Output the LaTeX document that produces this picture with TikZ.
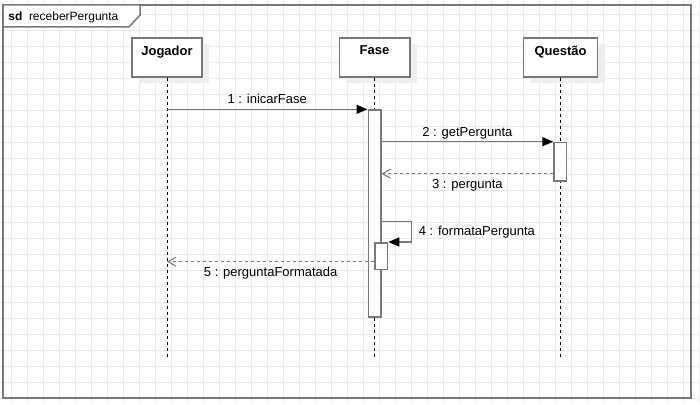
\documentclass[tikz,border=0pt]{standalone}
\usepackage{fontspec}
\setmainfont{Liberation Sans}
\usetikzlibrary{arrows.meta, positioning, calc, shadows}
\definecolor{linegray}{RGB}{120,120,120}
\definecolor{gridgray}{RGB}{234,234,234}
\definecolor{shadowgray}{RGB}{238,238,238}

\begin{document}
\begin{tikzpicture}[
    x=1pt, y=-1pt,
    head/.style={rectangle, draw=linegray, line width=1.7pt, fill=white, minimum width=70.3pt, minimum height=38.3pt, anchor=north,
        general shadow={fill=shadowgray, shadow xshift=7pt, shadow yshift=-6pt}},
    headname/.style={anchor=north, yshift=-8pt, inner sep=0pt, font=\bfseries\fontsize{13}{15}\selectfont},
    lifeline/.style={black, line width=1pt, dash pattern=on 3pt off 3pt},
    act/.style={rectangle, draw=linegray, line width=1.5pt, fill=white, minimum width=12.5pt, anchor=north, inner sep=0pt},
    call/.style={draw=linegray, line width=1.3pt, -{Triangle[length=11pt, width=9pt, color=black]}},
    reply/.style={draw=linegray, line width=1.3pt, dash pattern=on 3pt off 3pt, -{Straight Barb[length=8pt, width=9pt, line width=1pt, color=linegray]}},
    msg/.style={inner sep=2.5pt, text height=9.5pt, text depth=2.5pt, font=\fontsize{13}{15}\selectfont}
]

    % background and grid
    \useasboundingbox (0,0) rectangle (700,404);
    \fill[white] (0,0) rectangle (700,404);
    \foreach \k in {0,...,43}
        \draw[gridgray, line width=0.8pt] ({11.3+16*\k},0) -- ++(0,404);
    \foreach \k in {0,...,24}
        \draw[gridgray, line width=0.8pt] (0,{14.7+16*\k}) -- ++(700,0);

    % frame
    \draw[linegray, line width=1.5pt] (3,5) rectangle (691,398);
    \draw[linegray, line width=1.5pt, fill=white] (3,5) -- (140,5) -- (140,15) -- (129,27) -- (3,27) -- cycle;
    \node[anchor=west, inner sep=0pt, font=\fontsize{12}{14}\selectfont] (frametitle) at (8.3,17.5) {\textbf{sd}\hspace{6.5pt}receberPergunta};

    % lifeline heads
    \node[head, label={[headname]north:Jogador}] (jog) at (167,37.5) {};
    \node[head, label={[headname]north:Fase}] (fase) at (374.5,37.5) {};
    \node[head, minimum width=74pt, label={[headname]north:Questão}] (quest) at (560.5,37.5) {};

    % lifelines
    \coordinate (bottom) at (0,357);
    \draw[lifeline] (jog.south) -- (jog.south |- bottom);
    \draw[lifeline] (fase.south) -- (fase.south |- bottom);
    \draw[lifeline] (quest.south) -- (quest.south |- bottom);

    % activations
    \node[act, minimum height=207pt] (fact) at (374.5,109.3) {};
    \node[act, minimum height=38.5pt] (qact) at (560.3,141.7) {};
    \node[act, minimum height=26.5pt] (nact) at (381.3,242) {};

    % messages
    \draw[call] (jog.south |- fact.north west) -- node[msg, above] {1 : inicarFase} (fact.north west);
    \draw[call] (fact.east |- qact.north west) -- node[msg, above] {2 : getPergunta} (qact.north west);
    \coordinate (r3) at ([yshift=8pt]qact.south west);
    \draw[reply] (r3) -- node[msg, below=2.3pt] {3 : pergunta} (fact.east |- r3);
    \coordinate (s4) at (0,221.7);
    \draw[call] (fact.east |- s4) -- ++(30,0) |- node[msg, anchor=west, pos=0.25, xshift=4.2pt] {4 : formataPergunta} (nact.north east);
    \coordinate (r5) at (0,261.7);
    \draw[reply] (nact.west |- r5) -- node[msg, below=2.3pt] {5 : perguntaFormatada} (jog.south |- r5);

\end{tikzpicture}
\end{document}
